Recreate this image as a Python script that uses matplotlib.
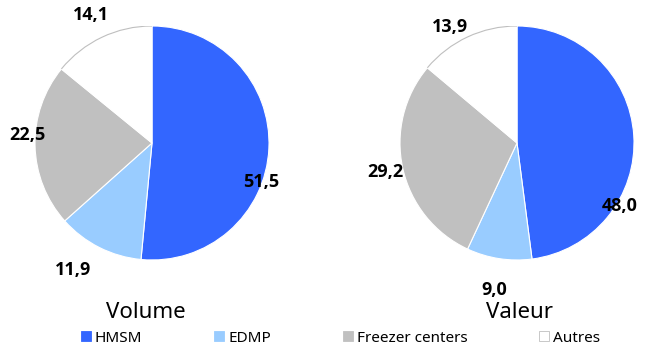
import matplotlib.pyplot as plt
import matplotlib.patches as mpatches
import numpy as np

plt.rcParams['font.family'] = ['Noto Sans', 'DejaVu Sans']

categories = ['HMSM', 'EDMP', 'Freezer centers', 'Autres']
volume = [51.5, 11.9, 22.5, 14.1]
valeur = [48.0, 9.0, 29.2, 13.9]
titles = ['Volume', 'Valeur']
colors = ['#3366FF', '#99CCFF', '#C0C0C0', '#FFFFFF']

# label placement (distance in radii, angle shift in degrees from wedge middle)
label_dist = [[0.99, 1.28, 1.07, 1.21], [1.03, 1.27, 1.15, 1.14]]
label_shift = [[-17, -5, -5, 0], [-35, 0, 0, 5]]

fig = plt.figure(figsize=(6.45, 3.49), dpi=100)

W, H = 645, 349
centers = [(152, 143), (517, 143)]
title_x = [146, 519]
R = 117

for k, (vals, title) in enumerate(zip([volume, valeur], titles)):
    cx, cy = centers[k]
    ax = fig.add_axes([(cx - R) / W, (H - cy - R) / H, 2 * R / W, 2 * R / H])
    wedges, _ = ax.pie(vals, colors=colors, startangle=90, counterclock=False,
                       wedgeprops=dict(edgecolor='white', linewidth=0.8))
    ax.set_xlim(-1, 1)
    ax.set_ylim(-1, 1)
    # grey outline on the white slice
    w = wedges[3]
    ax.add_patch(mpatches.Arc((0, 0), 2, 2, theta1=w.theta1, theta2=w.theta2,
                              color='#BFBFBF', lw=0.8))
    for i, w in enumerate(wedges):
        ang = np.deg2rad((w.theta1 + w.theta2) / 2 + label_shift[k][i])
        d = label_dist[k][i]
        txt = f'{vals[i]:.1f}'.replace('.', ',')
        ax.text(d * np.cos(ang), d * np.sin(ang), txt, ha='center', va='center',
                fontsize=13, fontweight='bold', family=['Open Sans', 'DejaVu Sans'],
                clip_on=False)
    fig.text(title_x[k] / W, 1 - 313 / H, title, ha='center', va='center', fontsize=16)

handles = [mpatches.Patch(facecolor=c, edgecolor='#BFBFBF' if c == '#FFFFFF' else c,
                          linewidth=0.6, label=l) for c, l in zip(colors, categories)]
fig.legend(handles=handles, ncol=4, loc='center left', bbox_to_anchor=(81 / W, 1 - 338 / H),
           frameon=False, fontsize=11, handlelength=0.65, handleheight=0.65,
           handletextpad=0.26, columnspacing=4.7, borderpad=0, borderaxespad=0)

plt.savefig('out.png', dpi=100)
